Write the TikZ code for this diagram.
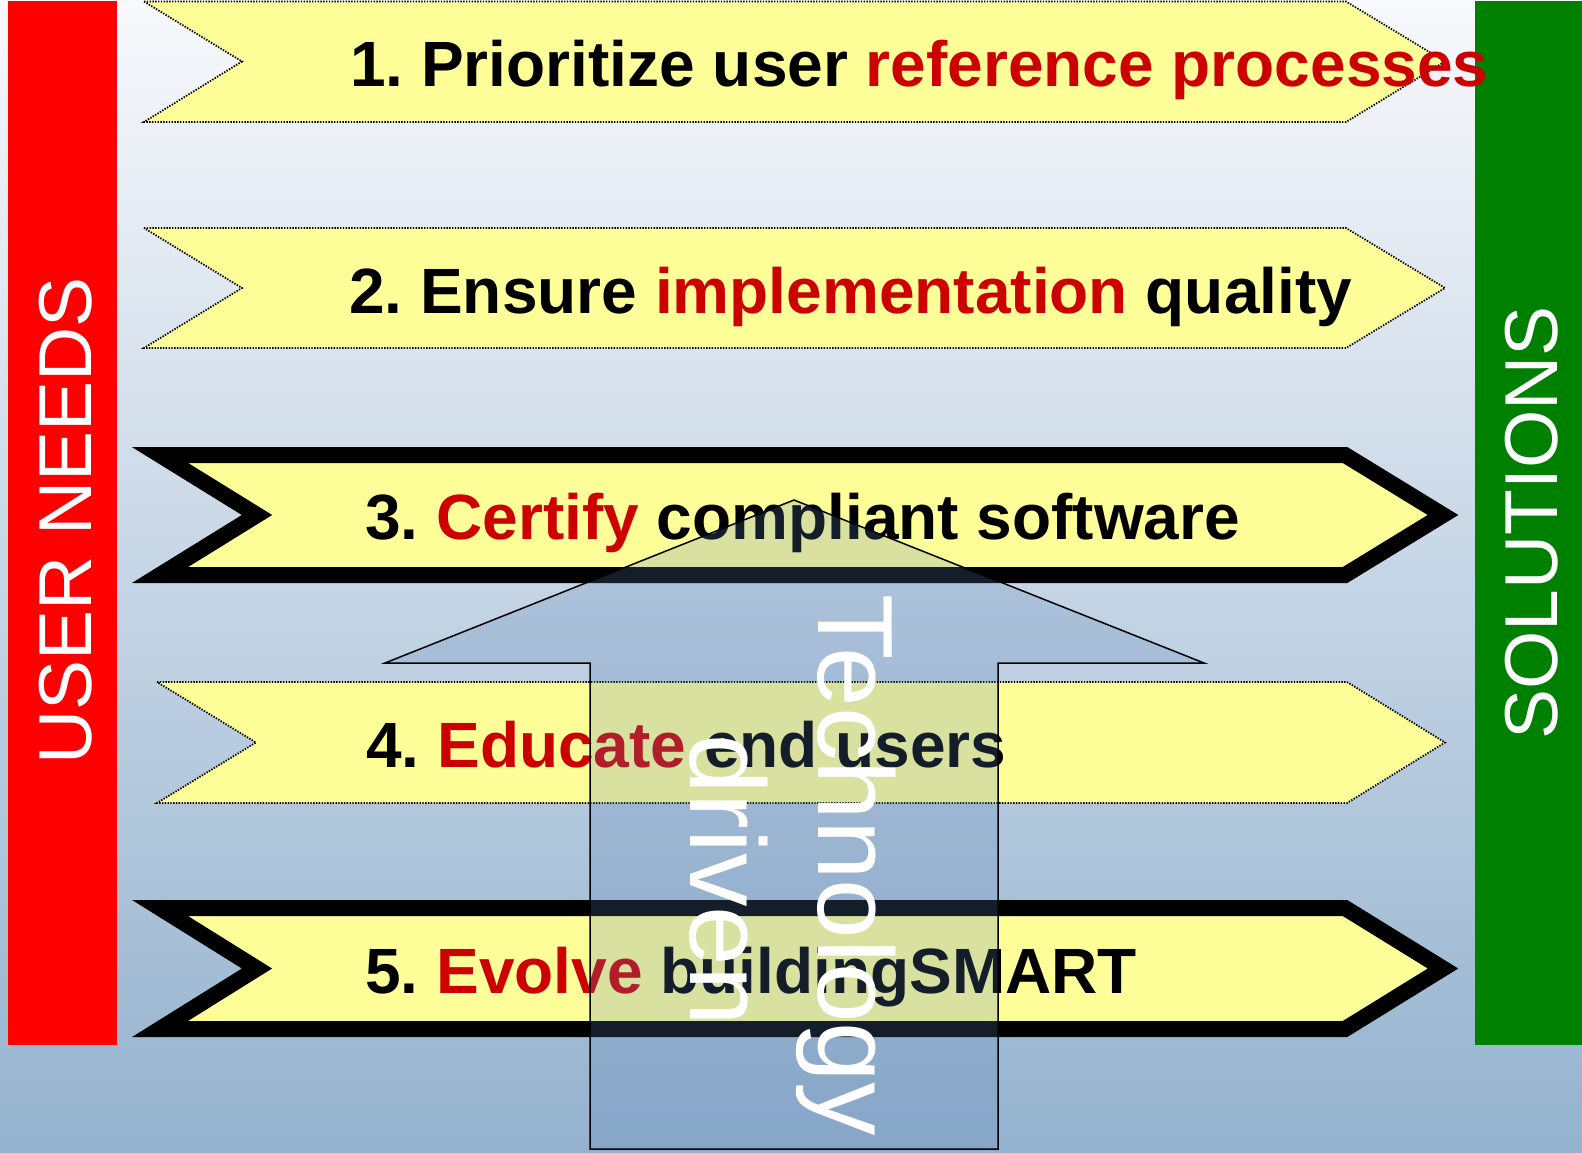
\documentclass[tikz,border=0pt]{standalone}
\usepackage{fontspec}
\setmainfont{Liberation Sans}
\frenchspacing
\definecolor{bgtop}{RGB}{248,249,252}
\definecolor{bgbot}{RGB}{148,178,206}
\definecolor{hlred}{RGB}{204,0,0}
\definecolor{chevfill}{RGB}{255,255,153}
\definecolor{barred}{RGB}{255,0,0}
\definecolor{bargreen}{RGB}{0,128,0}
\definecolor{arrowfill}{RGB}{89,128,183}
\newcommand{\hl}[1]{\textcolor{hlred}{#1}}
\begin{document}
\begin{tikzpicture}[x=1bp,y=-1bp,
  chevthin/.style={fill=chevfill,draw=black,line width=1.8bp,dash pattern=on 1.4bp off 1.4bp},
  chevthick/.style={fill=chevfill,draw=black,line width=16bp,miter limit=20},
  itemtext/.style={inner sep=0pt,anchor=base west,font=\fontsize{64bp}{70bp}\selectfont\bfseries},
  bartext/.style={inner sep=0pt,anchor=base west,text=white,rotate=90,font=\fontsize{75bp}{80bp}\selectfont},
  techtext/.style={inner sep=0pt,anchor=base west,text=white,rotate=-90,font=\fontsize{107bp}{112bp}\selectfont},
  bigarrow/.style={fill=arrowfill,fill opacity=0.23,draw=black,line width=1.5bp}]
\useasboundingbox (0,0) rectangle (1582,1152);
\shade[top color=bgtop,bottom color=bgbot] (0,0) rectangle (1582,1152);
% side bars
\fill[barred] (8,1) rectangle (117,1045);
\fill[bargreen] (1475,1) rectangle (1582,1045);
\node[bartext] (userneeds) at (91,765) {USER NEEDS};
\node[bartext] (solutions) at (1557,740) {SOLUTIONS};
% chevrons
\draw[chevthin] (144,1.5) -- (1346,1.5) -- (1445,61.5) -- (1346,122) -- (144,122) -- (242,61.5) -- cycle;
\draw[chevthin] (144,228) -- (1346,228) -- (1445,288) -- (1346,348) -- (144,348) -- (242,288) -- cycle;
\draw[chevthick] (160,455) -- (1345,455) -- (1443,515) -- (1345,575) -- (160,575) -- (257,515) -- cycle;
\draw[chevthin] (157,682) -- (1347,682) -- (1445,742.5) -- (1347,803) -- (157,803) -- (256,742.5) -- cycle;
\draw[chevthick] (160,908) -- (1345,908) -- (1443,968.5) -- (1345,1029) -- (160,1029) -- (257,968.5) -- cycle;
% texts
\node[itemtext] (t1) at (350,86) {1. Prioritize user \hl{reference processes}};
\node[itemtext] (t2) at (349,313) {2. Ensure \hl{implementation} quality};
\node[itemtext] (t3) at (365,539) {3. \hl{Certify} compliant software};
\node[itemtext] (t4) at (366,767) {4. \hl{Educate} end users};
\node[itemtext] (t5) at (365,993) {5. \hl{Evolve} buildingSMART};
% big arrow
\draw[bigarrow] (590,1149) -- (590,663) -- (385,663) -- (794,500) -- (1204,663) -- (998,663) -- (998,1149) -- cycle;
\node[techtext] (tech) at (818,594) {Technology};
\node[techtext] (driven) at (690,734) {driven};
\end{tikzpicture}
\end{document}
